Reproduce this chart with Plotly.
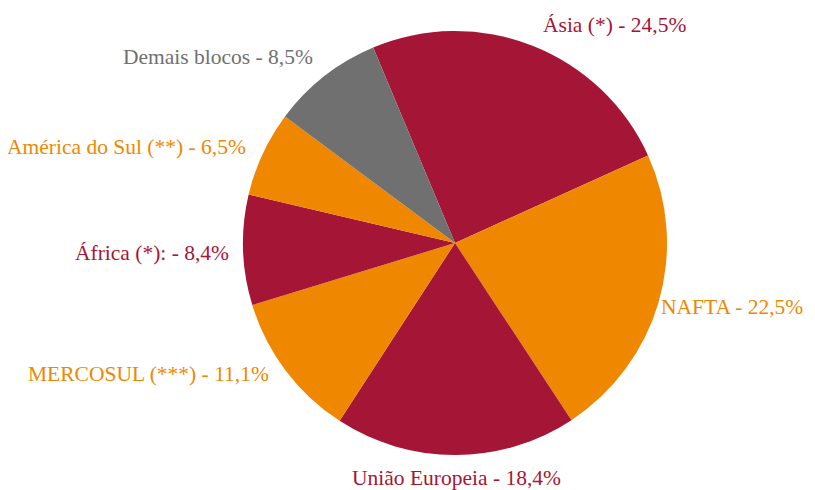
import plotly.graph_objects as go

blocos = ["Ásia (*)", "NAFTA", "União Europeia", "MERCOSUL (***)",
          "África (*):", "América do Sul (**)", "Demais blocos"]
valores = [24.5, 22.5, 18.4, 11.1, 8.4, 6.5, 8.5]
rotulos = ["Ásia (*) - 24,5%", "NAFTA - 22,5%", "União Europeia - 18,4%",
           "MERCOSUL (***) - 11,1%", "África (*): - 8,4%",
           "América do Sul (**) - 6,5%", "Demais blocos - 8,5%"]

vinho = "#A51535"
laranja = "#EF8700"
cinza = "#707070"
cores = [vinho, laranja, vinho, laranja, vinho, laranja, cinza]

W, H = 815, 490
off = 8  # margem do <body> da página
cx, cy, raio = 455 - off, 243 - off, 212

fig = go.Figure(go.Pie(
    labels=blocos,
    values=valores,
    textinfo="none",
    sort=False,
    direction="clockwise",
    rotation=-22.7,
    marker=dict(colors=cores, line=dict(width=0)),
    showlegend=False,
    hoverinfo="label+percent",
    domain=dict(x=[(cx - raio) / W, (cx + raio) / W],
                y=[(H - cy - raio) / H, (H - cy + raio) / H]),
))

# posição dos rótulos (px) e alinhamento
pos_rotulos = [(614, 25, "center"), (805, 307, "right"), (456, 478, "center"),
               (271, 374, "right"), (231, 253, "right"), (248, 147, "right"),
               (315, 57, "right")]

for txt, cor, (px, py, anc) in zip(rotulos, cores, pos_rotulos):
    fig.add_annotation(
        x=(px - off) / W, y=1 - (py - off) / H, xref="paper", yref="paper",
        text=txt, showarrow=False, xanchor=anc, yanchor="middle",
        font=dict(family="Liberation Serif", size=21.5, color=cor),
    )

fig.update_layout(
    width=W, height=H,
    margin=dict(l=0, r=0, t=0, b=0),
    paper_bgcolor="white",
    plot_bgcolor="white",
)

fig.write_html("out.html")
